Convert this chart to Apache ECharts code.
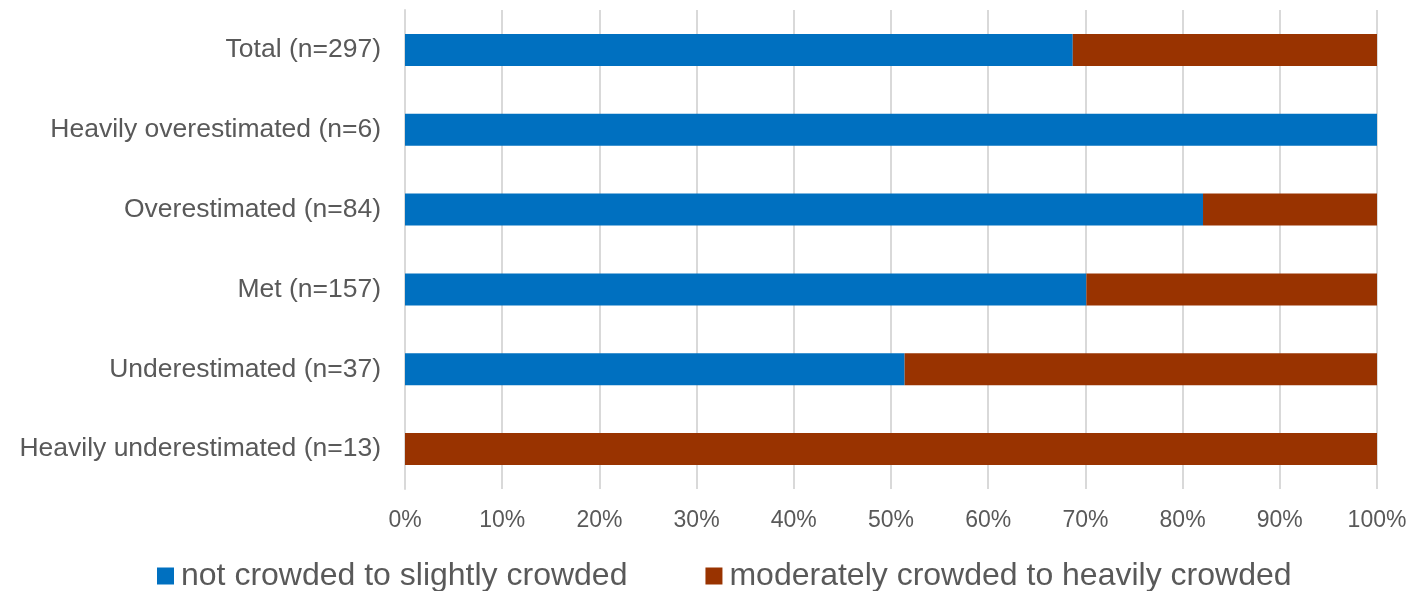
<!DOCTYPE html>
<html>
<head>
<meta charset="utf-8">
<script src="https://cdn.jsdelivr.net/npm/echarts@6/dist/echarts.min.js"></script>
<style>
  html, body { margin: 0; padding: 0; background: #fff; }
  #chart { width: 1412px; height: 591px; }
</style>
</head>
<body>
<div id="chart"></div>
<script>
// Categories listed bottom to top (ECharts category y-axis starts at the bottom)
const categories = [
  'Heavily underestimated (n=13)',
  'Underestimated (n=37)',
  'Met (n=157)',
  'Overestimated (n=84)',
  'Heavily overestimated (n=6)',
  'Total (n=297)'
];
const seriesNames = ['not crowded to slightly crowded', 'moderately crowded to heavily crowded'];
const notCrowded = [0, 51.4, 70.1, 82.1, 100, 68.7];
const crowded = [100, 48.6, 29.9, 17.9, 0, 31.3];
const xTicks = [0, 10, 20, 30, 40, 50, 60, 70, 80, 90, 100];

const textColor = '#595959';
const font = 'Liberation Sans, Arial, sans-serif';

const chart = echarts.init(document.getElementById('chart'));
chart.setOption({
  animation: false,
  textStyle: { fontFamily: font },
  grid: { left: 405, right: 35, top: 10, bottom: 102, containLabel: false },
  legend: {
    top: 555,
    left: 152,
    itemWidth: 17,
    itemHeight: 17,
    itemGap: 78,
    icon: 'rect',
    textStyle: { color: textColor, fontSize: 32, fontFamily: font, padding: [0, 0, 0, 2] },
    data: seriesNames
  },
  xAxis: {
    type: 'value',
    min: 0,
    max: 100,
    interval: 10,
    axisLine: { show: false },
    axisTick: { show: false },
    splitLine: { show: true, lineStyle: { color: '#d9d9d9', width: 2 } },
    axisLabel: {
      color: textColor,
      fontSize: 23,
      margin: 20,
      formatter: v => (xTicks.includes(v) ? v + '%' : '')
    }
  },
  yAxis: {
    type: 'category',
    data: categories,
    axisLine: { show: true, lineStyle: { color: '#d9d9d9', width: 2 } },
    axisTick: { show: false },
    axisLabel: { color: textColor, fontSize: 26.5, margin: 24, padding: [4, 0, 0, 0] }
  },
  series: [
    {
      name: seriesNames[0],
      type: 'bar',
      stack: 'total',
      barWidth: 32,
      itemStyle: { color: '#0070c0' },
      data: notCrowded
    },
    {
      name: seriesNames[1],
      type: 'bar',
      stack: 'total',
      barWidth: 32,
      itemStyle: { color: '#993300' },
      data: crowded
    }
  ]
});
</script>
</body>
</html>
